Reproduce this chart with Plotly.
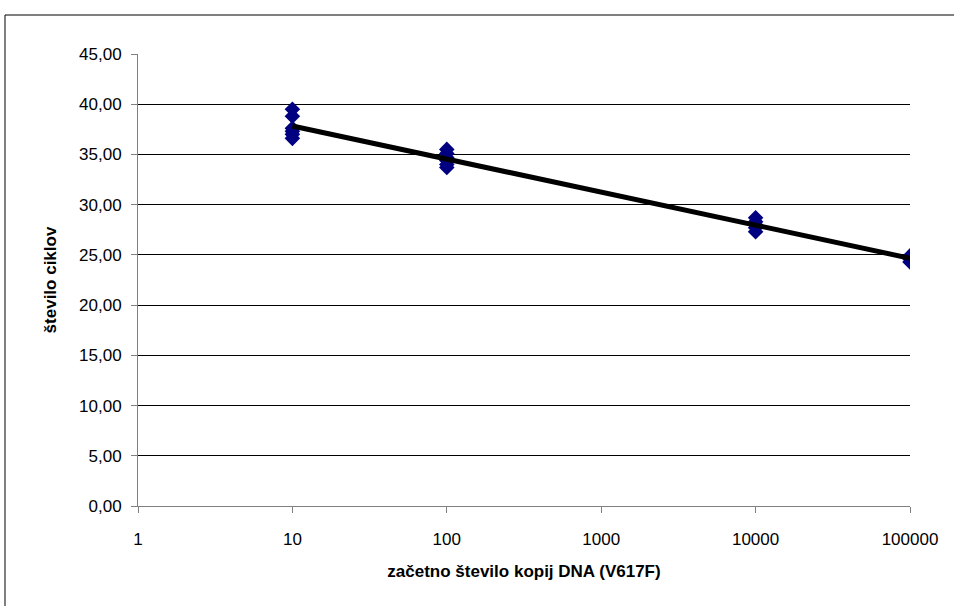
import numpy as np
import plotly.graph_objects as go

# Standard-curve measurements: starting copy number vs. cycle threshold
copies_10 = [10] * 6
ct_10 = [39.5, 38.8, 37.6, 37.3, 37.0, 36.6]
copies_100 = [100] * 6
ct_100 = [35.5, 35.1, 34.7, 34.4, 34.0, 33.7]
copies_10000 = [10000] * 5
ct_10000 = [28.7, 28.3, 28.0, 27.7, 27.3]
copies_100000 = [100000] * 3
ct_100000 = [24.9, 24.6, 24.3]

x_tick_vals = [1, 10, 100, 1000, 10000, 100000]
x_tick_text = ["1", "10", "100", "1000", "10000", "100000"]
y_tick_vals = [0, 5, 10, 15, 20, 25, 30, 35, 40, 45]

x_all = np.array(copies_10 + copies_100 + copies_10000 + copies_100000, dtype=float)
y_all = np.array(ct_10 + ct_100 + ct_10000 + ct_100000, dtype=float)

# Log-linear least-squares trend line
slope, intercept = np.polyfit(np.log10(x_all), y_all, 1)
fit_x = np.array([10.0, 100000.0])
fit_y = slope * np.log10(fit_x) + intercept

FONT = "Liberation Sans, Arial, sans-serif"

fig = go.Figure()
fig.add_trace(go.Scatter(
    x=x_all, y=y_all, mode="markers",
    marker=dict(symbol="diamond", size=12, color="#000080",
                line=dict(width=0)),
    showlegend=False, hoverinfo="x+y",
))
fig.add_trace(go.Scatter(
    x=fit_x, y=fit_y, mode="lines",
    line=dict(color="black", width=5),
    showlegend=False, hoverinfo="skip",
))

# Plot area geometry (pixels)
L, R, T, B = 138, 910, 54, 506
W, H = 954, 606
pw, ph = R - L, B - T

fig.update_layout(
    width=W, height=H,
    margin=dict(l=L, r=W - R, t=T, b=H - B, pad=0),
    paper_bgcolor="white", plot_bgcolor="white",
    separators=",.",
    font=dict(family=FONT, size=17, color="black"),
    xaxis=dict(
        type="log", range=[0, 5],
        tickvals=x_tick_vals, ticktext=x_tick_text,
        showgrid=False, zeroline=False,
        showline=True, linecolor="#808080", linewidth=1,
        ticks="outside", ticklen=6, tickcolor="#808080",
        ticklabelstandoff=12,
        tickfont=dict(family=FONT, size=17),
        title=dict(text="<b>začetno število kopij DNA (V617F)</b>",
                   font=dict(family=FONT, size=17), standoff=16),
    ),
    yaxis=dict(
        range=[0, 45], tickvals=y_tick_vals, tickformat=".2f",
        showgrid=True, gridcolor="black", gridwidth=1,
        zeroline=False,
        showline=True, linecolor="#808080", linewidth=1,
        ticks="outside", ticklen=6, tickcolor="#808080",
        ticklabelstandoff=6,
        tickfont=dict(family=FONT, size=17),
        title=dict(text="<b>število ciklov</b>",
                   font=dict(family=FONT, size=17), standoff=18),
    ),
    shapes=[dict(
        type="rect", xref="paper", yref="paper",
        x0=(5 - L) / pw, x1=(W + 10 - L) / pw,
        y0=(B - (H + 10)) / ph, y1=(B - 15) / ph,
        line=dict(color="black", width=1), fillcolor="rgba(0,0,0,0)",
        layer="below",
    )],
)

fig.write_html("out.html")
